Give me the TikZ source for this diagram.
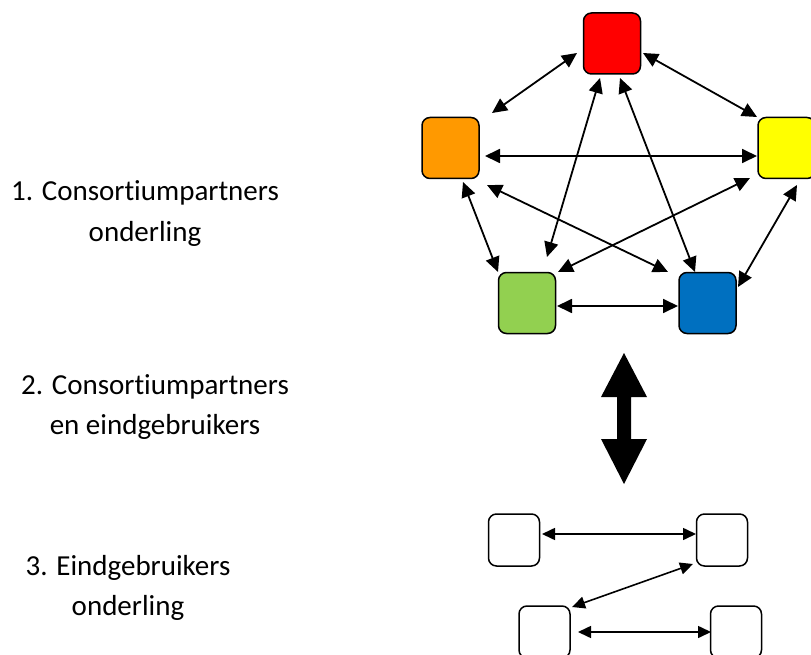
\documentclass[tikz,border=0pt]{standalone}
\usepackage{fontspec}
\setmainfont{Carlito}[Ligatures=NoCommon]
\usetikzlibrary{arrows.meta,calc}
\definecolor{cred}{HTML}{FF0000}
\definecolor{corange}{HTML}{FF9900}
\definecolor{cyellow}{HTML}{FFFF00}
\definecolor{cgreen}{HTML}{92D050}
\definecolor{cblue}{HTML}{0070C0}
\begin{document}
\begin{tikzpicture}[x=1pt,y=-1pt,
  cbox/.style={draw=black,line width=1.5pt,rounded corners=8pt,inner sep=0pt,minimum width=57pt,minimum height=61pt,fill=#1},
  wbox/.style={draw=black,line width=1.5pt,rounded corners=8pt,inner sep=0pt,minimum width=51pt,minimum height=52pt,fill=white},
  link/.style={line width=1.8pt,{Triangle[length=15pt,width=14pt]}-{Triangle[length=15pt,width=14pt]}},
  slink/.style={line width=1.6pt,{Triangle[length=13pt,width=12pt]}-{Triangle[length=13pt,width=12pt]}},
  lbl/.style={align=center,anchor=base,inner sep=0pt,font=\fontsize{29}{40}\selectfont}]
\useasboundingbox (0,0) rectangle (811,655);
\fill[white] (0,0) rectangle (811,655);
% coloured boxes
\node[cbox=cred] (red) at (612,43.5) {};
\node[cbox=corange] (orange) at (450.5,148) {};
\node[cbox=cyellow] (yellow) at (786.5,148) {};
\node[cbox=cgreen] (green) at (527,303) {};
\node[cbox=cblue] (blue) at (707.5,303) {};
% links
\draw[link] ($(red)+(-35,9.5)$) -- ($(orange)+(41.5,-35)$);
\draw[link] ($(red)+(31,9.5)$) -- ($(yellow)+(-29.5,-31)$);
\draw[link] ($(orange)+(34.5,8)$) -- ($(yellow)+(-29.5,8)$);
\draw[link] ($(orange)+(36.5,37)$) -- ($(blue)+(-39.5,-31)$);
\draw[link] ($(orange)+(12.5,34)$) -- ($(green)+(-29,-31)$);
\draw[link] ($(red)+(-12,34.5)$) -- ($(green)+(20,-46)$);
\draw[link] ($(red)+(8,34.5)$) -- ($(blue)+(-12.5,-31)$);
\draw[link] ($(yellow)+(-36.5,30)$) -- ($(green)+(31,-31)$);
\draw[link] ($(yellow)+(10.5,37)$) -- ($(blue)+(30.5,-16)$);
\draw[link] ($(green)+(30,3)$) -- ($(blue)+(-29.5,3)$);
% big double arrow
\fill[black] (624,353) -- (647,397) -- (631,397) -- (631,439) -- (647,439) -- (624,484)
  -- (601,439) -- (617,439) -- (617,397) -- (601,397) -- cycle;
% white boxes
\node[wbox] (ea) at (514,540) {};
\node[wbox] (eb) at (722,540) {};
\node[wbox] (ec) at (544.5,632) {};
\node[wbox] (ed) at (736,632) {};
\draw[slink] ($(ea)+(28,-6)$) -- ($(eb)+(-26,-6)$);
\draw[slink] ($(eb)+(-29,24)$) -- ($(ec)+(27.5,-25)$);
\draw[slink] ($(ec)+(33.5,0)$) -- ($(ed)+(-25,0)$);
% labels
\node[lbl] (t1) at (145,241) {1. Consort\kern0pt iumpartners\\onderling};
\node[lbl] (t2) at (155,434) {2. Consort\kern0pt iumpartners\\en eindgebruikers};
\node[lbl] (t3) at (128,615) {3. Eindgebruikers\\onderling};
\end{tikzpicture}
\end{document}
